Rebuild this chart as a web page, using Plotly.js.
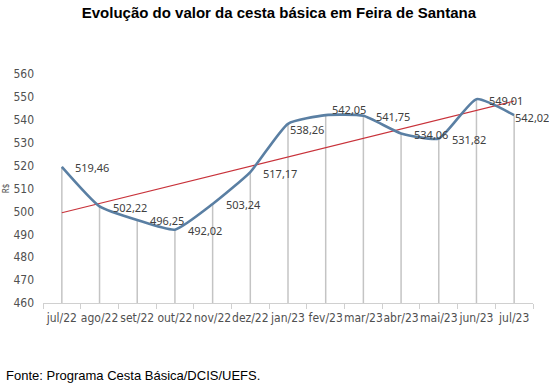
<!DOCTYPE html>
<html><head><meta charset="utf-8">
<script src="https://cdn.plot.ly/plotly-3.0.1.min.js"></script>
<style>body{margin:0;background:#fff}#c{width:549px;height:383px}</style>
</head><body><div id="c"></div>
<script>
const months = ["jul/22","ago/22","set/22","out/22","nov/22","dez/22","jan/23","fev/23","mar/23","abr/23","mai/23","jun/23","jul/23"];
const values = [519.46,502.22,496.25,492.02,503.24,517.17,538.26,542.05,541.75,534.06,531.82,549.01,542.02];
const trendEnds = [499.4, 548.2];
const yBase = 460;

const labels = values.map(v => v.toFixed(2).replace('.', ','));
const dropX = [], dropY = [];
months.forEach((m, i) => { dropX.push(m, m, null); dropY.push(yBase, values[i], null); });

const data = [
  {x: dropX, y: dropY, type: 'scatter', mode: 'lines', line: {color: '#c4c4c4', width: 1.5}, hoverinfo: 'skip'},
  {x: [months[0], months[months.length-1]], y: trendEnds, type: 'scatter', mode: 'lines', line: {color: '#c8323a', width: 1.2}},
  {x: months, y: values, type: 'scatter', mode: 'lines',
   line: {color: '#5a7fa3', width: 2.6, shape: 'spline', smoothing: 0.5}}
];

// label placement tweaks (Excel-style auto placement)
const labelShift = {"jan/23": [0, -6], "fev/23": [4, 6], "jul/23": [-1, -2]};
const labelFont = {family: 'Noto Sans, sans-serif', size: 11, color: '#404040'};
const annotations = months.map((m, i) => {
  const s = labelShift[m] || [11, -1];
  return {x: m, y: values[i], xref: 'x', yref: 'y', text: labels[i], showarrow: false,
    xanchor: 'left', yanchor: 'middle', xshift: s[0], yshift: s[1], font: labelFont};
});
annotations.push({text: 'Fonte: Programa Cesta Básica/DCIS/UEFS.', xref: 'paper', yref: 'paper', x: -0.08, xanchor: 'left',
     y: -0.315, yanchor: 'middle', showarrow: false, font: {family: 'Liberation Sans, Arial, sans-serif', size: 13, color: '#000'}});

const tickFont = {family: 'Liberation Sans Narrow, DejaVu Sans Condensed, sans-serif', size: 12, color: '#505050'};
const layout = {
  width: 549, height: 383,
  margin: {l: 43, r: 16, t: 74, b: 80},
  paper_bgcolor: '#ffffff', plot_bgcolor: '#ffffff',
  showlegend: false,
  title: {text: '<b>Evolução do valor da cesta básica em Feira de Santana</b>', x: 0.508, xanchor: 'center', y: 0.968, yanchor: 'middle',
          font: {family: 'Liberation Sans, Arial, sans-serif', size: 15, color: '#000'}},
  xaxis: {type: 'category', range: [-0.5, 12.5], showgrid: false, zeroline: false,
          showline: true, linecolor: '#d0d0d0', linewidth: 1,
          ticks: 'outside', tickson: 'boundaries', ticklen: 5, tickcolor: '#d0d0d0',
          tickangle: 0, ticklabelstandoff: 4, tickfont: tickFont},
  yaxis: {range: [460, 560], dtick: 10, showgrid: false, zeroline: false, showline: false,
          ticks: '', ticklabelstandoff: 8, tickfont: tickFont,
          title: {text: 'R$', standoff: 4, font: {family: 'Noto Sans, sans-serif', size: 8, color: '#505050'}}},
  annotations: annotations
};
Plotly.newPlot('c', data, layout, {displayModeBar: false, staticPlot: true});
</script></body></html>
